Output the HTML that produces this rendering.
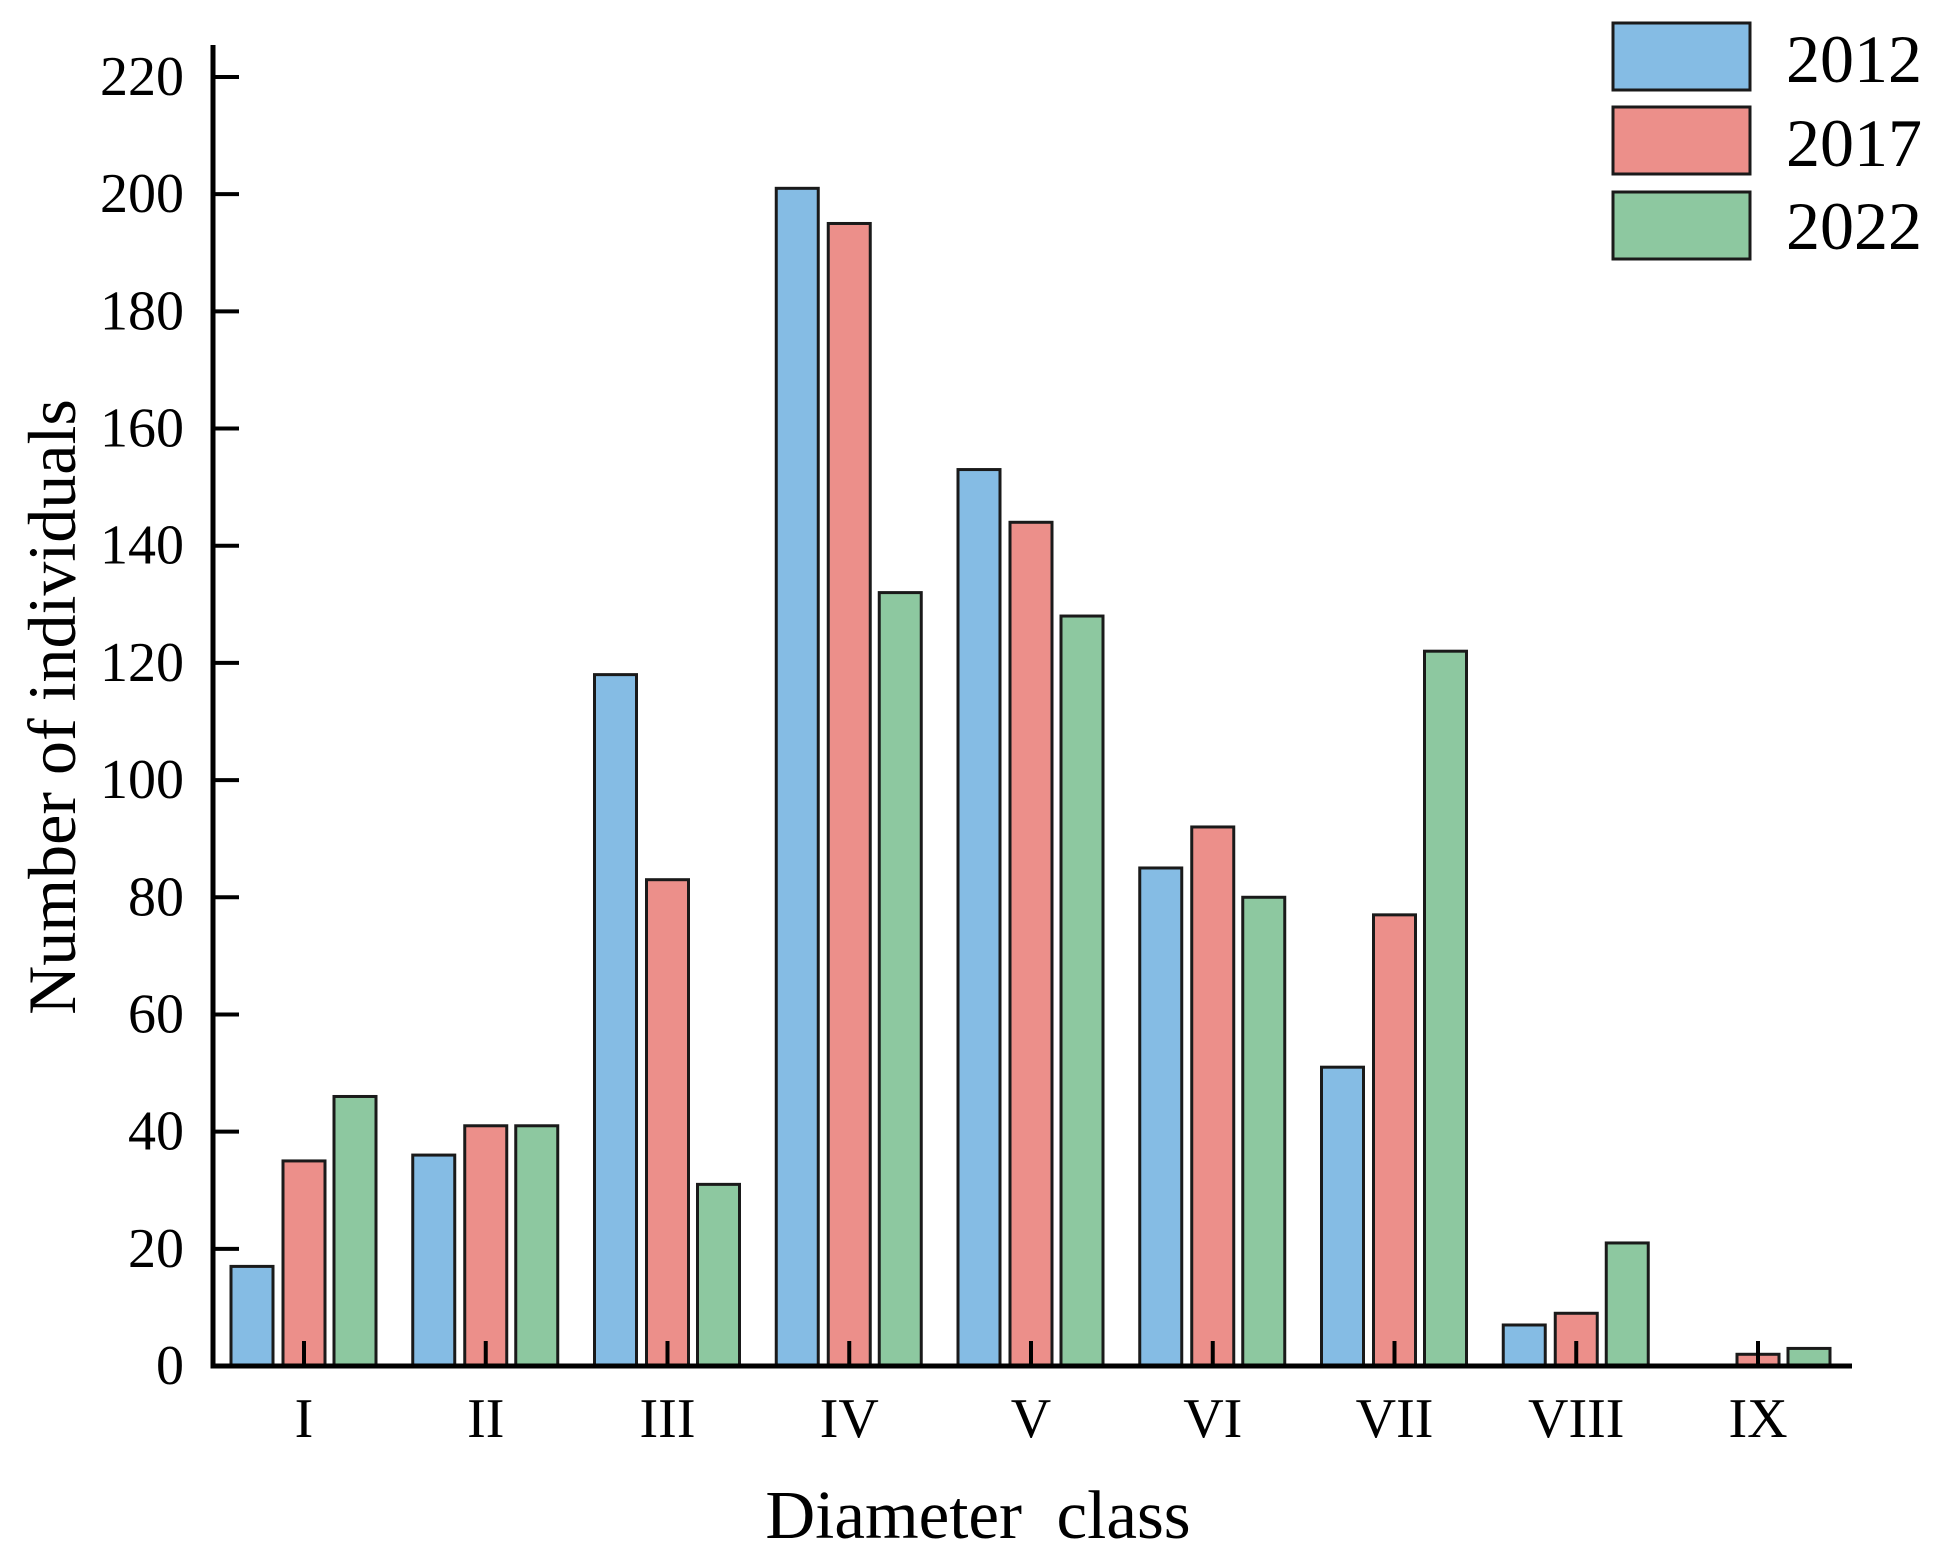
<!DOCTYPE html>
<html><head><meta charset="utf-8"><style>
html,body{margin:0;padding:0;background:#fff;}
svg{display:block;font-family:"Liberation Serif",serif;}
</style></head><body>
<svg id="chart" width="1943" height="1558" viewBox="0 0 1943 1558">
<g id="bars"></g>
<g id="axes"></g>
<text x="52" y="707" font-size="68" text-anchor="middle" transform="rotate(-90 52 707)" dominant-baseline="central">Number of individuals</text>
<text x="978" y="1538" font-size="69" text-anchor="middle" xml:space="preserve">Diameter  class</text>
<g>
<g><rect x="1613" y="23" width="137" height="67" fill="#85bce4" stroke="#1a1a1a" stroke-width="3"/><text x="1786" y="82" font-size="68">2012</text></g>
<g><rect x="1613" y="107" width="137" height="67" fill="#ec8f8a" stroke="#1a1a1a" stroke-width="3"/><text x="1786" y="166" font-size="68">2017</text></g>
<g><rect x="1613" y="192" width="137" height="67" fill="#8dc8a0" stroke="#1a1a1a" stroke-width="3"/><text x="1786" y="249" font-size="68">2022</text></g>
</g>
</svg>
<script>
const categories = ["I","II","III","IV","V","VI","VII","VIII","IX"];
const series2012 = [17,36,118,201,153,85,51,7,0];
const series2017 = [35,41,83,195,144,92,77,9,2];
const series2022 = [46,41,31,132,128,80,122,21,3];
const yTicks = [0,20,40,60,80,100,120,140,160,180,200,220];

const NS = "http://www.w3.org/2000/svg";
const x0 = 213, yBase = 1366, yTop220 = 77;
function yScale(v){ return yBase - (yBase - yTop220) * v / 220; }
function xScale(i){ return 304 + i * 181.75; }
function mk(tag, attrs, parent){ const e = document.createElementNS(NS, tag); for (const k in attrs) e.setAttribute(k, attrs[k]); parent.appendChild(e); return e; }

const bars = document.getElementById('bars');
const axes = document.getElementById('axes');
const seriesList = [[series2012,"#85bce4",-52,"2012"],[series2017,"#ec8f8a",0,"2017"],[series2022,"#8dc8a0",51,"2022"]];
seriesList.forEach(([vals,col,off,name]) => {
  vals.forEach((v,i) => {
    if (v <= 0) return;
    const cx = xScale(i) + off;
    const r = mk('rect', {x: cx - 21, y: yScale(v), width: 42, height: yBase - yScale(v), fill: col, stroke: "#1a1a1a", "stroke-width": 3}, bars);
    
    
  });
});

const yl = mk('line', {x1: x0, y1: 45, x2: x0, y2: yBase + 2.5, stroke: "#000", "stroke-width": 5}, axes);


const xl = mk('line', {x1: x0 - 2.5, y1: yBase, x2: 1852, y2: yBase, stroke: "#000", "stroke-width": 5}, axes);



yTicks.forEach(t => {
  const y = yScale(t);
  const tk = mk('line', {x1: x0, y1: y, x2: x0 + 26, y2: y, stroke: "#000", "stroke-width": 4}, axes);
  
  
  const lb = mk('text', {x: 184, y: y, "font-size": 56, "text-anchor": "end", "dominant-baseline": "central"}, axes);
  lb.textContent = t;
  
  
});
categories.forEach((c,i) => {
  const x = xScale(i);
  const tk = mk('line', {x1: x, y1: yBase, x2: x, y2: yBase - 25, stroke: "#000", "stroke-width": 4}, axes);
  
  
  const lb = mk('text', {x: x, y: 1437, "font-size": 56, "text-anchor": "middle"}, axes);
  lb.textContent = c;
  
  
});
</script>
</body></html>
